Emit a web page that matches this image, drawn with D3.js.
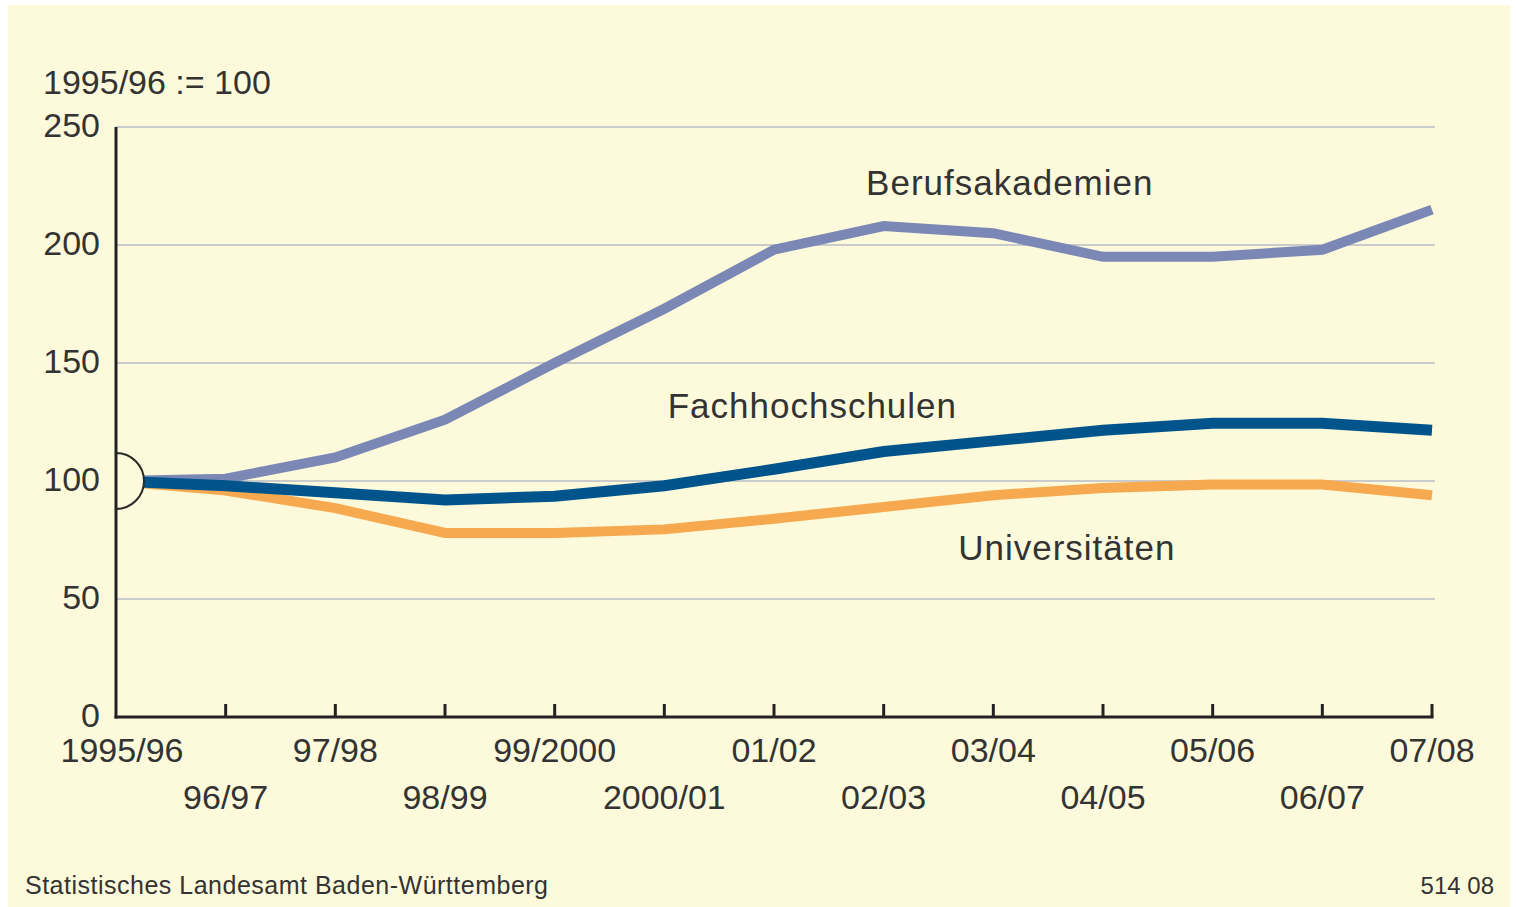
<!DOCTYPE html>
<html>
<head>
<meta charset="utf-8">
<script src="https://cdn.jsdelivr.net/npm/d3@7"></script>
<style>
  body { margin: 0; background: #fff; }
  svg text { font-family: "Liberation Sans", Arial, Helvetica, sans-serif; fill: #333; }
</style>
</head>
<body>
<div id="chart"></div>
<script>
// school years, 1995/96 := 100
var years = ["1995/96", "96/97", "97/98", "98/99", "99/2000", "2000/01", "01/02",
             "02/03", "03/04", "04/05", "05/06", "06/07", "07/08"];
var yTicks = [0, 50, 100, 150, 200, 250];

var berufsakademien = [100, 101, 110, 126, 150, 173, 198, 208, 205, 195, 195, 198, 215];
var fachhochschulen = [100, 98, 95, 92, 93.5, 98, 105, 112.5, 117, 121.5, 124.5, 124.5, 121.5];
var universitaeten  = [100, 96, 88.5, 78, 78, 79.5, 84, 89, 94, 97, 98.5, 98.5, 94];

var seriesNames = ["Berufsakademien", "Universitäten", "Fachhochschulen"];
var seriesValues = [berufsakademien, universitaeten, fachhochschulen];
var seriesColors = ["#7b88b6", "#f7a94f", "#00548c"];
var seriesWidths = [10, 10, 11];
// label anchor in data space: [category index, value] (baseline, centred)
var labelAnchors = [[8.15, 221], [8.67, 66.5], [6.35, 126.5]];

var W = 1516, H = 907;
var bg = "#fdfadb";

var svg = d3.select("#chart").append("svg")
    .attr("width", W)
    .attr("height", H);

svg.append("rect")
    .attr("x", 8).attr("y", 5)
    .attr("width", W - 14).attr("height", H - 5)
    .attr("fill", bg);

var x = d3.scaleLinear()
    .domain([0, years.length - 1])
    .range([116, 1432]);

var y = d3.scaleLinear()
    .domain([0, 250])
    .range([717, 127]);

// gridlines
svg.append("g")
    .selectAll("line")
    .data(yTicks.filter(function(d) { return d > 0; }))
    .enter().append("line")
    .attr("x1", x(0))
    .attr("x2", 1435)
    .attr("y1", function(d) { return y(d); })
    .attr("y2", function(d) { return y(d); })
    .attr("stroke", "#b9bcc6")
    .attr("stroke-width", 1.5);

// y tick labels
svg.append("g")
    .selectAll("text")
    .data(yTicks)
    .enter().append("text")
    .attr("x", 100)
    .attr("y", function(d) { return y(d) + 10; })
    .attr("text-anchor", "end")
    .style("font-size", "34px")
    .text(function(d) { return d; });

svg.append("text")
    .attr("x", 43)
    .attr("y", 94)
    .style("font-size", "34px")
    .text("1995/96 := 100");

// lines
var line = d3.line()
    .x(function(d, i) { return x(i); })
    .y(function(d) { return y(d); });

svg.append("g")
    .selectAll("path")
    .data(seriesValues)
    .enter().append("path")
    .attr("d", line)
    .attr("fill", "none")
    .attr("stroke", function(d, i) { return seriesColors[i]; })
    .attr("stroke-width", function(d, i) { return seriesWidths[i]; })
    .attr("stroke-linejoin", "miter");

// series labels
svg.append("g")
    .selectAll("text")
    .data(seriesNames)
    .enter().append("text")
    .attr("x", function(d, i) { return x(labelAnchors[i][0]); })
    .attr("y", function(d, i) { return y(labelAnchors[i][1]); })
    .attr("text-anchor", "middle")
    .style("font-size", "35px")
    .style("letter-spacing", "1px")
    .text(function(d) { return d; });

// axis break half-circle at 100
var r = 28;
svg.append("path")
    .attr("d", "M" + x(0) + "," + (y(100) - r) +
               " A" + r + "," + r + " 0 0,1 " + x(0) + "," + (y(100) + r) + " Z")
    .attr("fill", bg)
    .attr("stroke", "#2a2a2a")
    .attr("stroke-width", 2);

// y axis line
svg.append("line")
    .attr("x1", x(0)).attr("x2", x(0))
    .attr("y1", y(250)).attr("y2", y(0) + 1.5)
    .attr("stroke", "#222")
    .attr("stroke-width", 3);

// x axis line + ticks
svg.append("line")
    .attr("x1", x(0) - 1.5).attr("x2", x(years.length - 1) + 1.5)
    .attr("y1", y(0)).attr("y2", y(0))
    .attr("stroke", "#222")
    .attr("stroke-width", 3);

svg.append("g")
    .selectAll("line")
    .data(years.slice(1))
    .enter().append("line")
    .attr("x1", function(d, i) { return x(i + 1); })
    .attr("x2", function(d, i) { return x(i + 1); })
    .attr("y1", y(0))
    .attr("y2", y(0) - 13)
    .attr("stroke", "#222")
    .attr("stroke-width", 3);

svg.append("g")
    .selectAll("text")
    .data(years)
    .enter().append("text")
    .attr("x", function(d, i) { return i === 0 ? x(0) + 6 : x(i); })
    .attr("y", function(d, i) { return i % 2 === 0 ? 762 : 809; })
    .attr("text-anchor", "middle")
    .style("font-size", "34px")
    .text(function(d) { return d; });

// footer
svg.append("text")
    .attr("x", 25)
    .attr("y", 894)
    .style("font-size", "25px")
    .style("letter-spacing", "0.5px")
    .text("Statistisches Landesamt Baden-Württemberg");

svg.append("text")
    .attr("x", 1494)
    .attr("y", 894)
    .attr("text-anchor", "end")
    .style("font-size", "24px")
    .text("514 08");
</script>
</body>
</html>
